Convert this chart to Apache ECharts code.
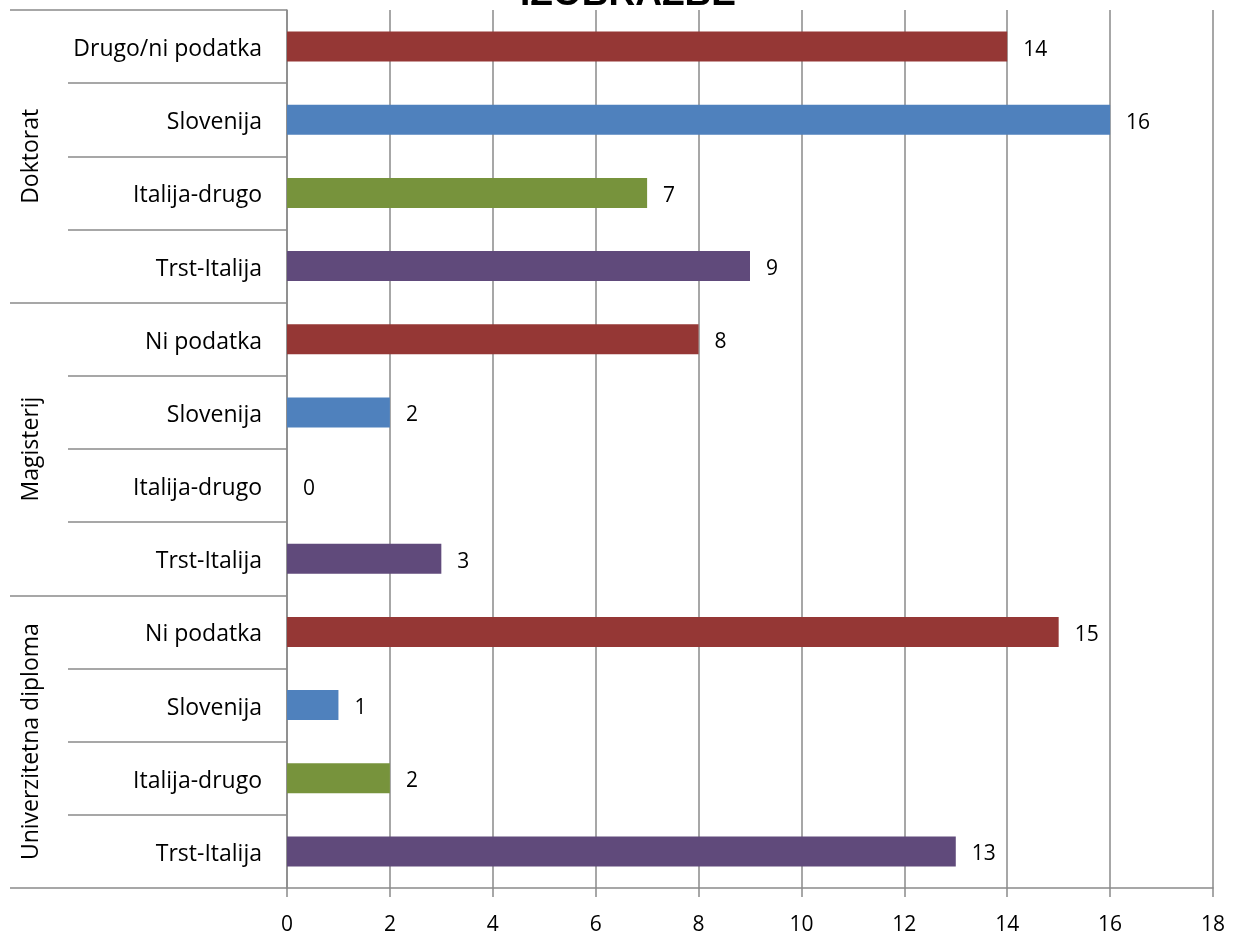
<!DOCTYPE html>
<html>
<head>
<meta charset="utf-8">
<script src="https://cdn.jsdelivr.net/npm/echarts@6/dist/echarts.min.js"></script>
<style>
  html, body { margin: 0; padding: 0; background: #ffffff; }
  #chart { width: 1238px; height: 932px; }
</style>
</head>
<body>
<div id="chart"></div>
<script>
// Education level groups (bottom to top)
const groups = ['Univerzitetna diploma', 'Magisterij', 'Doktorat'];

// Origin of the degree, per bar (bottom to top)
const categories = [
  'Trst-Italija', 'Italija-drugo', 'Slovenija', 'Ni podatka',
  'Trst-Italija', 'Italija-drugo', 'Slovenija', 'Ni podatka',
  'Trst-Italija', 'Italija-drugo', 'Slovenija', 'Drugo/ni podatka'
];

// Counts per bar
const values = [13, 2, 1, 15, 3, 0, 2, 8, 9, 7, 16, 14];

// Colour per origin type (position within a group)
const typeColors = ['#604A7B', '#77933C', '#4F81BD', '#953735'];

const titleText = 'IZOBRAZBE';

const FONT = '"Open Sans", Lato, sans-serif';
const TEXT_SIZE = 23;
const NUM_SIZE = 21;
const GRID_COLOR = '#8a8a8a';

const chart = echarts.init(document.getElementById('chart'));

chart.setOption({
  animation: false,
  backgroundColor: '#ffffff',
  graphic: [{
    type: 'text',
    x: 628,
    y: -24,
    style: {
      text: titleText,
      font: 'bold 37px "Liberation Sans", Arial, sans-serif',
      fill: '#000000',
      align: 'center',
      verticalAlign: 'top'
    }
  }],
  grid: {
    left: 287, right: 25, top: 10, bottom: 44,
    containLabel: false,
    outerBoundsMode: 'none'
  },
  xAxis: {
    type: 'value',
    min: 0,
    max: 18,
    interval: 2,
    axisLine: { show: true, lineStyle: { color: GRID_COLOR, width: 1.5 } },
    axisTick: { show: true, length: 9, lineStyle: { color: GRID_COLOR, width: 1.5 } },
    splitLine: { show: true, lineStyle: { color: GRID_COLOR, width: 1.5 } },
    axisLabel: { color: '#000000', fontFamily: FONT, fontSize: NUM_SIZE, margin: 27 }
  },
  yAxis: [{
    type: 'category',
    data: categories,
    position: 'left',
    axisLine: { show: true, lineStyle: { color: GRID_COLOR, width: 1.5 } },
    axisTick: { show: true, interval: 0, length: 219, lineStyle: { color: GRID_COLOR, width: 1.5 } },
    // a short line box anchored at its top nudges the text slightly below the band centre
    axisLabel: {
      interval: 0, color: '#000000', fontFamily: FONT, fontSize: TEXT_SIZE, margin: 25,
      verticalAlign: 'top', lineHeight: 6
    }
  }, {
    type: 'category',
    data: groups,
    position: 'left',
    axisLine: { show: false },
    axisTick: { show: true, interval: 0, length: 277, lineStyle: { color: GRID_COLOR, width: 1.5 } },
    axisLabel: { interval: 0, rotate: 90, color: '#000000', fontFamily: FONT, fontSize: TEXT_SIZE, margin: 244 }
  }],
  series: [{
    type: 'bar',
    yAxisIndex: 0,
    data: values,
    barWidth: 30,
    itemStyle: {
      color: function (p) { return typeColors[p.dataIndex % typeColors.length]; }
    },
    label: {
      show: true,
      position: 'right',
      distance: 16,
      offset: [0, 3],
      color: '#000000',
      fontFamily: FONT,
      fontSize: NUM_SIZE
    }
  }]
});
</script>
</body>
</html>
